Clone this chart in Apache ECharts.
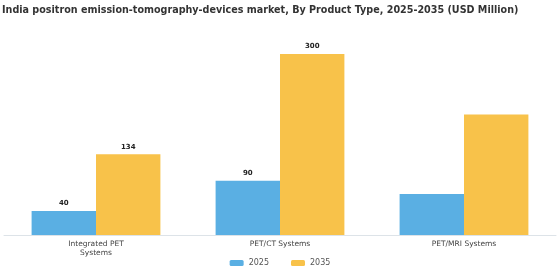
<!DOCTYPE html>
<html>
<head>
<meta charset="utf-8">
<script src="https://cdn.jsdelivr.net/npm/echarts@6/dist/echarts.min.js"></script>
<style>
  html, body { margin: 0; padding: 0; background: #fff; }
  #chart { width: 560px; height: 280px; }
</style>
</head>
<body>
<div id="chart"></div>
<script>
// categories and values
var categories = ['Integrated PET\nSystems', 'PET/CT Systems', 'PET/MRI Systems'];
var years = ['2025', '2035'];
var values2025 = [40, 90, 68];
var values2035 = [134, 300, 200];
// only some bars carry a label in the reference
var labelled2025 = [true, true, false];
var labelled2035 = [true, true, false];

var chart = echarts.init(document.getElementById('chart'));

function withLabels (vals, flags) {
  return vals.map(function (v, i) {
    return { value: v, label: { show: flags[i] } };
  });
}

var labelStyle = {
  position: 'top',
  color: '#222',
  fontSize: 7,
  fontWeight: 'bold',
  fontFamily: 'DejaVu Sans',
  distance: 4
};

chart.setOption({
  backgroundColor: '#fff',
  animation: false,
  title: {
    text: 'India positron emission-tomography-devices market, By Product Type, 2025-2035 (USD Million)',
    left: 2,
    top: 5,
    padding: 0,
    textStyle: {
      color: '#333',
      fontSize: 9.6,
      fontWeight: 'bold',
      fontFamily: 'DejaVu Sans'
    }
  },
  legend: {
    data: years,
    bottom: 8,
    left: 'center',
    itemWidth: 14,
    itemHeight: 6,
    itemGap: 22,
    icon: 'roundRect',
    textStyle: { color: '#555', fontSize: 8, fontFamily: 'DejaVu Sans' }
  },
  grid: { left: 4, right: 4, top: 36, bottom: 45 },
  xAxis: {
    type: 'category',
    data: categories,
    axisTick: { show: false },
    axisLine: { lineStyle: { color: '#dde3e8' } },
    axisLabel: {
      color: '#444',
      fontSize: 7.5,
      fontFamily: 'DejaVu Sans',
      margin: 5,
      lineHeight: 9
    }
  },
  yAxis: {
    type: 'value',
    min: 0,
    max: 330,
    show: false
  },
  series: [{
    name: years[0],
    type: 'bar',
    barGap: 0,
    barCategoryGap: '30%',
    itemStyle: { color: '#5aafe3' },
    label: labelStyle,
    data: withLabels(values2025, labelled2025)
  }, {
    name: years[1],
    type: 'bar',
    barGap: 0,
    barCategoryGap: '30%',
    itemStyle: { color: '#f8c24a' },
    label: labelStyle,
    data: withLabels(values2035, labelled2035)
  }]
});
</script>
</body>
</html>
